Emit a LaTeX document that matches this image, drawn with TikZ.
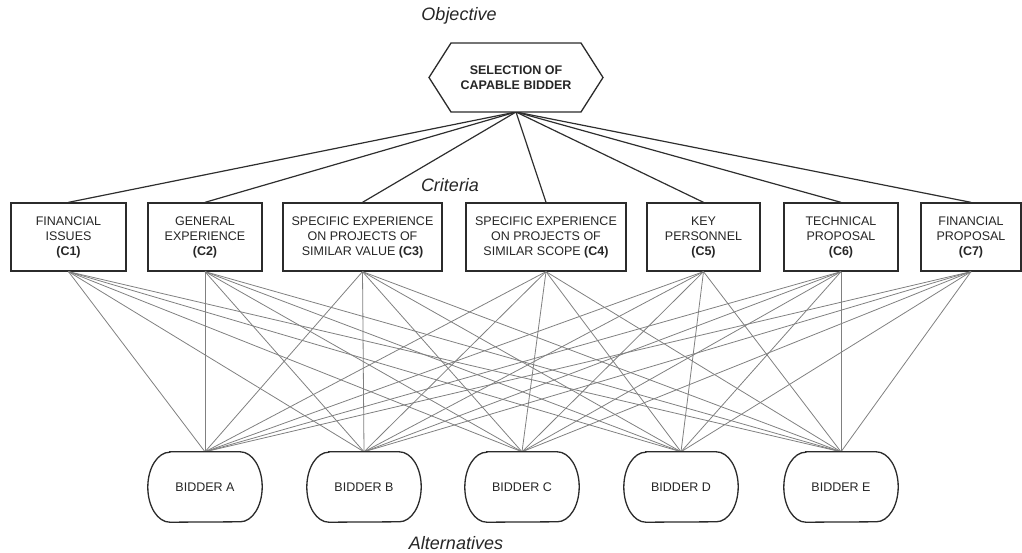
\documentclass[tikz,border=0pt]{standalone}
\usepackage{fontspec}
\setmainfont{Liberation Sans}
\definecolor{boxc}{HTML}{2B2B2B}
\definecolor{topc}{HTML}{2E2E2E}
\definecolor{lowc}{HTML}{808080}
\definecolor{txt}{HTML}{262626}
\newcommand\stadiumshape[1]{%
  \draw[draw=boxc,line width=1.3pt,fill=white]
    ([xshift=22pt]#1.north west) -- ([xshift=-22pt]#1.north east)
    arc[start angle=90,end angle=-90,x radius=22pt,y radius=35pt]
    -- ([xshift=22pt]#1.south west)
    arc[start angle=270,end angle=90,x radius=22pt,y radius=35pt] -- cycle;}
\begin{document}
\begin{tikzpicture}[x=1pt,y=-1pt,
  crit/.style={draw=boxc, line width=1.3pt, fill=white, minimum height=68pt,
    align=center, font=\fontsize{12.5}{15}\selectfont, text=txt, inner sep=0pt},
  bid/.style={minimum width=114pt, minimum height=70pt,
    font=\fontsize{12.5}{15}\selectfont, text=txt, inner sep=0pt},
  toplink/.style={draw=topc, line width=1.2pt},
  lowlink/.style={draw=lowc, line width=0.8pt},
  lab/.style={font=\itshape\fontsize{18}{20}\selectfont, text=txt}]
\useasboundingbox (0,0) rectangle (1022,553);

% objective
\coordinate (objb) at (516,112);
% criteria
\node[crit, minimum width=115pt] (C1) at (68.5,237) {FINANCIAL\\ISSUES\\\textbf{(C1)}};
\node[crit, minimum width=114pt] (C2) at (205,237) {GENERAL\\EXPERIENCE\\\textbf{(C2)}};
\node[crit, minimum width=159pt] (C3) at (362.5,237) {SPECIFIC EXPERIENCE\\ON PROJECTS OF\\SIMILAR VALUE \textbf{(C3)}};
\node[crit, minimum width=160pt] (C4) at (546,237) {SPECIFIC EXPERIENCE\\ON PROJECTS OF\\SIMILAR SCOPE \textbf{(C4)}};
\node[crit, minimum width=113pt] (C5) at (703.5,237) {KEY\\PERSONNEL\\\textbf{(C5)}};
\node[crit, minimum width=114pt] (C6) at (841,237) {TECHNICAL\\PROPOSAL\\\textbf{(C6)}};
\node[crit, minimum width=100pt] (C7) at (971,237) {FINANCIAL\\PROPOSAL\\\textbf{(C7)}};
% bidders
\node[bid] (bA) at (205,487) {};
\node[bid] (bB) at (364,487) {};
\node[bid] (bC) at (522,487) {};
\node[bid] (bD) at (681,487) {};
\node[bid] (bE) at (841,487) {};

% links
\foreach \c in {C1,C2,C3,C4,C5,C6,C7}{
  \foreach \b in {bA,bB,bC,bD,bE}{
    \draw[lowlink] (\c.south) -- (\b.north);
  }
  \draw[toplink] (objb) -- (\c.north);
}

% hexagon
\draw[draw=boxc, line width=1.3pt, fill=white]
  (451,43) -- (581,43) -- (603,77.5) -- (581,112) -- (451,112) -- (429,77.5) -- cycle;
\node[align=center, font=\bfseries\fontsize{12.5}{15}\selectfont, text=txt] (obj) at (516,77.5)
  {SELECTION OF\\CAPABLE BIDDER};

% bidder shapes
\foreach \b/\t in {bA/A,bB/B,bC/C,bD/D,bE/E}{
  \stadiumshape{\b}
  \node[font=\fontsize{12.5}{15}\selectfont, text=txt] at (\b) {BIDDER \t};
}

% labels
\node[lab] (lobj) at (459,16) {Objective};
\node[lab] (lcrit) at (450,185) {Criteria};
\node[lab] (lalt) at (456,543) {Alternatives};
\end{tikzpicture}
\end{document}
